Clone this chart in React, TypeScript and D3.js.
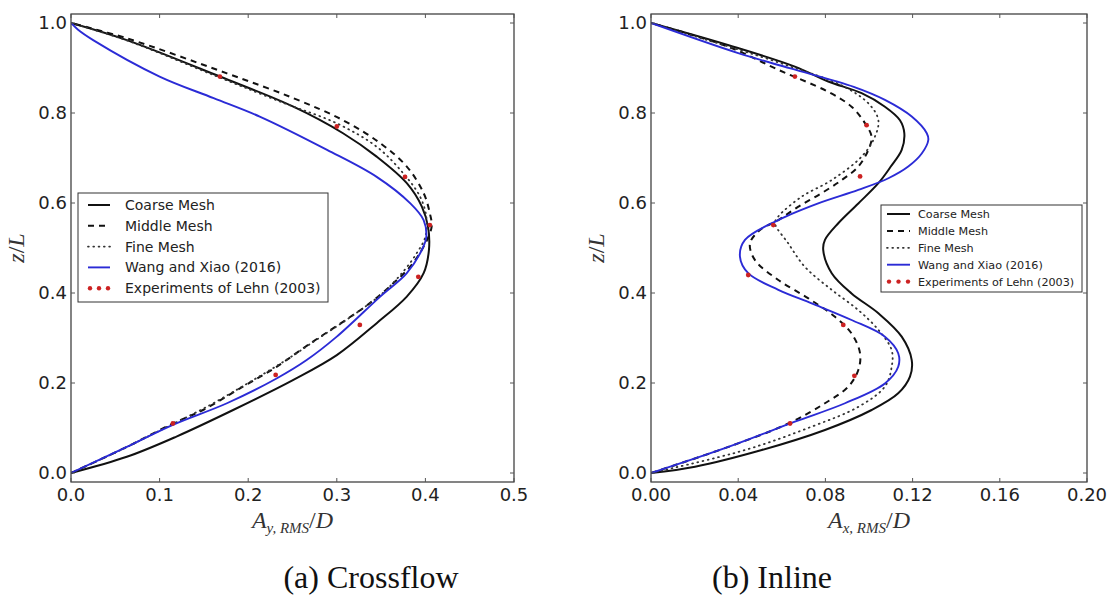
import React from 'react';
import * as d3 from 'd3';

type P = [number, number]; // [amplitude, z/L]

const zTicks = [0, 0.2, 0.4, 0.6, 0.8, 1.0];
const crossTicks = [0, 0.1, 0.2, 0.3, 0.4, 0.5];
const inlineTicks = [0, 0.04, 0.08, 0.12, 0.16, 0.2];
const legendLabels = ['Coarse Mesh', 'Middle Mesh', 'Fine Mesh', 'Wang and Xiao (2016)', 'Experiments of Lehn (2003)'];

const crossCoarse: P[] = [[0,0],[0.063,0.036],[0.119,0.081],[0.183,0.140],[0.251,0.207],[0.300,0.262],[0.345,0.333],[0.379,0.392],[0.398,0.444],[0.404,0.496],[0.403,0.547],[0.396,0.592],[0.379,0.644],[0.345,0.703],[0.307,0.755],[0.251,0.814],[0.168,0.881],[0.063,0.962],[0,1.0]];
const crossMiddle: P[] = [[0,0],[0.063,0.058],[0.115,0.110],[0.149,0.140],[0.194,0.192],[0.232,0.236],[0.270,0.288],[0.307,0.336],[0.337,0.377],[0.364,0.422],[0.383,0.459],[0.398,0.503],[0.407,0.547],[0.405,0.577],[0.398,0.622],[0.379,0.681],[0.349,0.733],[0.307,0.784],[0.251,0.833],[0.176,0.888],[0.063,0.966],[0,1.0]];
const crossFine: P[] = [[0,0],[0.055,0.05],[0.106,0.10],[0.156,0.15],[0.200,0.20],[0.242,0.25],[0.280,0.30],[0.318,0.35],[0.352,0.40],[0.376,0.45],[0.390,0.488],[0.400,0.525],[0.401,0.570],[0.394,0.614],[0.375,0.666],[0.345,0.725],[0.300,0.777],[0.243,0.820],[0.165,0.881],[0.062,0.962],[0,1.0]];
const crossWang: P[] = [[0,0],[0.063,0.058],[0.115,0.107],[0.176,0.155],[0.232,0.210],[0.266,0.251],[0.300,0.303],[0.349,0.392],[0.379,0.444],[0.397,0.500],[0.401,0.525],[0.398,0.562],[0.383,0.599],[0.345,0.658],[0.289,0.718],[0.213,0.792],[0.161,0.833],[0.100,0.881],[0.025,0.962],[0.008,0.985],[0,1.0]];
const crossExp: P[] = [[0.115,0.110],[0.231,0.218],[0.326,0.329],[0.392,0.436],[0.405,0.551],[0.377,0.658],[0.300,0.770],[0.168,0.881]];

const inlineCoarse: P[] = [[0,0],[0.0202,0.014],[0.0508,0.051],[0.0798,0.0956],[0.1012,0.140],[0.1134,0.177],[0.1188,0.214],[0.1196,0.251],[0.115,0.303],[0.1043,0.355],[0.092,0.399],[0.0829,0.444],[0.079,0.496],[0.0798,0.518],[0.0859,0.555],[0.0951,0.599],[0.1043,0.644],[0.110,0.681],[0.115,0.718],[0.1162,0.755],[0.1142,0.784],[0.1073,0.814],[0.0966,0.844],[0.0813,0.870],[0.066,0.903],[0.036,0.95],[0,1.0]];
const inlineMiddle: P[] = [[0,0],[0.0355,0.058],[0.063,0.110],[0.0798,0.155],[0.0905,0.192],[0.0951,0.229],[0.0959,0.266],[0.092,0.310],[0.0844,0.347],[0.0722,0.388],[0.0584,0.429],[0.0477,0.473],[0.0454,0.510],[0.050,0.540],[0.0584,0.562],[0.0676,0.592],[0.0783,0.622],[0.0875,0.651],[0.0951,0.681],[0.0997,0.718],[0.1012,0.747],[0.0982,0.777],[0.092,0.814],[0.0813,0.847],[0.0584,0.896],[0.0355,0.947],[0,1.0]];
const inlineFine: P[] = [[0,0],[0.0431,0.051],[0.0737,0.103],[0.0951,0.147],[0.1073,0.192],[0.1104,0.236],[0.1104,0.273],[0.1043,0.318],[0.0951,0.362],[0.0829,0.407],[0.0706,0.458],[0.063,0.510],[0.0569,0.555],[0.0584,0.570],[0.0691,0.614],[0.0829,0.651],[0.0966,0.703],[0.1025,0.745],[0.1043,0.784],[0.100,0.82],[0.088,0.86],[0.063,0.905],[0.034,0.95],[0,1.0]];
const inlineWang: P[] = [[0,0],[0.0355,0.058],[0.066,0.114],[0.089,0.155],[0.1073,0.199],[0.1134,0.236],[0.1134,0.266],[0.1073,0.303],[0.092,0.340],[0.0737,0.377],[0.0584,0.407],[0.0446,0.444],[0.0408,0.481],[0.0431,0.518],[0.0584,0.562],[0.0767,0.599],[0.0951,0.629],[0.1089,0.655],[0.118,0.681],[0.1242,0.710],[0.1272,0.740],[0.1265,0.755],[0.1196,0.792],[0.1073,0.829],[0.0930,0.858],[0.064,0.899],[0.040,0.933],[0,1.0]];
const inlineExp: P[] = [[0.0638,0.110],[0.0933,0.216],[0.0882,0.329],[0.0446,0.440],[0.0561,0.551],[0.0959,0.659],[0.0989,0.773],[0.066,0.881]];

const BLUE = '#2b2bd6';
const RED = '#cc2222';
const styles = [
  { stroke: '#111', width: 2, dash: '', cap: 'butt' },
  { stroke: '#111', width: 2, dash: '6,5', cap: 'butt' },
  { stroke: '#333', width: 1.8, dash: '0.8,4.5', cap: 'round' },
  { stroke: BLUE, width: 1.9, dash: '', cap: 'butt' },
];

interface PanelProps {
  x0: number; x1: number; domainMax: number; ticks: number[]; fmt: string;
  series: P[][]; exp: P[]; sub: string; caption: string; captionX: number;
  legend: { x: number; y: number; w: number; h: number; rowH: number; font: number; lineX0: number; lineX1: number; textX: number; firstY: number };
}

const Y0 = 482, Y1 = 14;
const FONT = 'DejaVu Sans, sans-serif';

function Panel(p: PanelProps) {
  const xs = d3.scaleLinear().domain([0, p.domainMax]).range([p.x0, p.x1]);
  const ys = d3.scaleLinear().domain([-0.02, 1.02]).range([Y0, Y1]);
  const line = d3.line<P>().x(d => xs(d[0])).y(d => ys(d[1])).curve(d3.curveCatmullRom.alpha(0.5));
  const f = d3.format(p.fmt);
  const cx = (p.x0 + p.x1) / 2;
  const L = p.legend;
  return (
    <g>
      <defs>
        <clipPath id={'clip' + p.x0}>
          <rect x={p.x0} y={Y1} width={p.x1 - p.x0} height={Y0 - Y1} />
        </clipPath>
      </defs>
      <g clipPath={`url(#clip${p.x0})`}>
        {p.series.map((s, i) => (
          <path key={i} d={line(s) || ''} fill="none" stroke={styles[i].stroke} strokeWidth={styles[i].width}
            strokeDasharray={styles[i].dash || undefined} strokeLinecap={styles[i].cap as any} />
        ))}
        {p.exp.map((d, i) => (
          <circle key={i} cx={xs(d[0])} cy={ys(d[1])} r={2.4} fill={RED} />
        ))}
      </g>
      <rect x={p.x0} y={Y1} width={p.x1 - p.x0} height={Y0 - Y1} fill="none" stroke="#333" strokeWidth={1.2} />
      {p.ticks.map((t, i) => (
        <g key={'x' + i}>
          <line x1={xs(t)} x2={xs(t)} y1={Y0} y2={Y0 - 4} stroke="#555" />
          <line x1={xs(t)} x2={xs(t)} y1={Y1} y2={Y1 + 4} stroke="#555" />
          <text x={xs(t)} y={501} textAnchor="middle" fontFamily={FONT} fontSize={18} fill="#222">{f(t)}</text>
        </g>
      ))}
      {zTicks.map((t, i) => (
        <g key={'y' + i}>
          <line x1={p.x0} x2={p.x0 + 4} y1={ys(t)} y2={ys(t)} stroke="#555" />
          <line x1={p.x1} x2={p.x1 - 4} y1={ys(t)} y2={ys(t)} stroke="#555" />
          <text x={p.x0 - 4} y={ys(t)} dy="0.36em" textAnchor="end" fontFamily={FONT} fontSize={18} fill="#222">{d3.format('.1f')(t)}</text>
        </g>
      ))}
      <text x={cx} y={528} textAnchor="middle" fontFamily="Liberation Serif, serif" fontSize={24} fill="#333">
        <tspan fontStyle="italic">A</tspan>
        <tspan fontSize={15} dy={5} fontStyle="italic">{p.sub}</tspan>
        <tspan dy={-5}>/</tspan>
        <tspan fontStyle="italic">D</tspan>
      </text>
      <text transform={`translate(${p.x0 - 47},${(Y0 + Y1) / 2}) rotate(-90)`} textAnchor="middle" fontFamily="Liberation Serif, serif" fontSize={24} fill="#333">
        <tspan fontStyle="italic">z</tspan>
        <tspan>/</tspan>
        <tspan fontStyle="italic">L</tspan>
      </text>
      <text x={p.captionX} y={588} textAnchor="middle" fontFamily="Liberation Serif, serif" fontSize={32} fill="#111">{p.caption}</text>
      <rect x={L.x} y={L.y} width={L.w} height={L.h} fill="#fff" stroke="#333" strokeWidth={1} />
      {legendLabels.map((lab, i) => {
        const yy = L.firstY + i * L.rowH;
        return (
          <g key={'l' + i}>
            {i < 4 ? (
              <line x1={L.lineX0} x2={L.lineX1} y1={yy} y2={yy} stroke={styles[i].stroke} strokeWidth={styles[i].width}
                strokeDasharray={styles[i].dash || undefined} strokeLinecap={styles[i].cap as any} />
            ) : (
              [0, 1, 2].map(k => (
                <circle key={k} cx={L.lineX0 + 2 + k * (L.lineX1 - L.lineX0 - 4) / 2} cy={yy} r={2.2} fill={RED} />
              ))
            )}
            <text x={L.textX} y={yy} dy="0.36em" fontFamily={FONT} fontSize={L.font} fill="#222">{lab}</text>
          </g>
        );
      })}
    </g>
  );
}

export default function App() {
  return (
    <svg width={1110} height={598} style={{ position: 'absolute', left: 0, top: 0, background: '#fff' }}>
      <rect x={0} y={0} width={1110} height={598} fill="#fff" />
      <Panel x0={71} x1={514} domainMax={0.5} ticks={crossTicks} fmt=".1f"
        series={[crossCoarse, crossMiddle, crossFine, crossWang]} exp={crossExp}
        sub="y, RMS" caption="(a) Crossflow" captionX={371}
        legend={{ x: 78, y: 193, w: 250, h: 109, rowH: 20.8, font: 14, lineX0: 88, lineX1: 110, textX: 125, firstY: 205 }} />
      <Panel x0={651} x1={1087} domainMax={0.2} ticks={inlineTicks} fmt=".2f"
        series={[inlineCoarse, inlineMiddle, inlineFine, inlineWang]} exp={inlineExp}
        sub="x, RMS" caption="(b) Inline" captionX={772}
        legend={{ x: 881, y: 205, w: 201, h: 87, rowH: 16.9, font: 11.2, lineX0: 887, lineX1: 910, textX: 918, firstY: 214 }} />
    </svg>
  );
}
